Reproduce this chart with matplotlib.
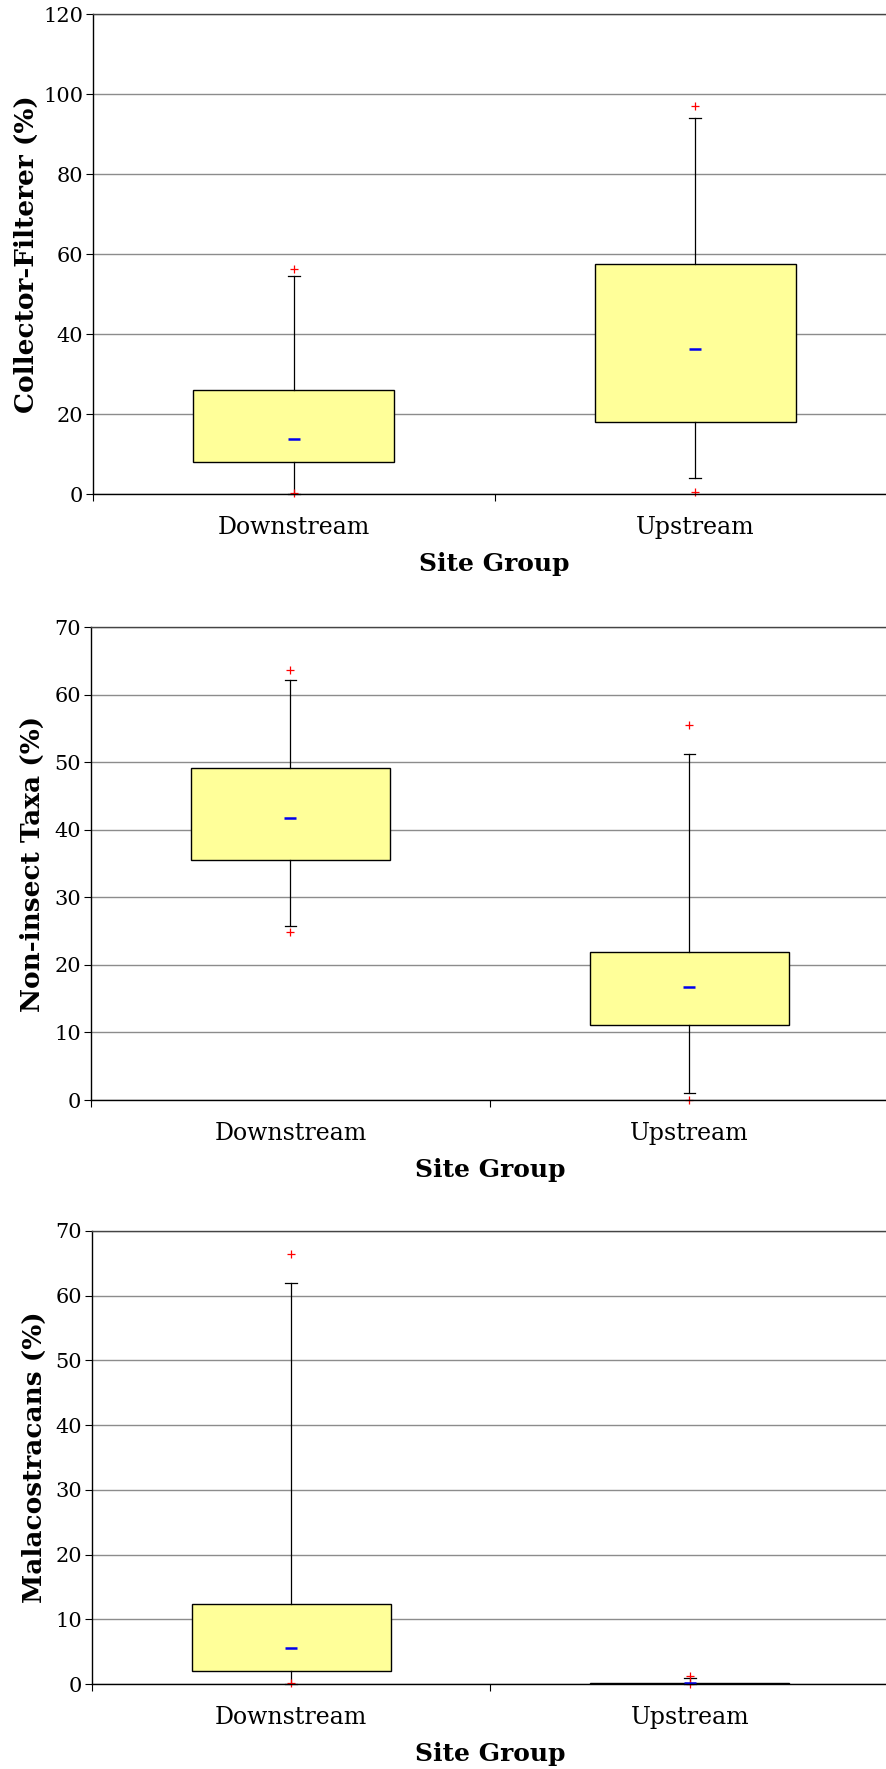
import matplotlib
matplotlib.use("Agg")
import matplotlib.pyplot as plt

# Site groups
groups = ["Downstream", "Upstream"]

# Collector-Filterer (%)
cf_q1 = [7.9, 18.0]
cf_q3 = [25.9, 57.6]
cf_mean = [13.8, 36.2]
cf_whislo = [0.0, 4.1]
cf_whishi = [54.6, 94.1]
cf_fliers = [[0.3, 56.3], [0.5, 97.0]]

# Non-insect Taxa (%)
nit_q1 = [35.5, 11.05]
nit_q3 = [49.2, 21.95]
nit_mean = [41.7, 16.7]
nit_whislo = [25.75, 1.1]
nit_whishi = [62.1, 51.2]
nit_fliers = [[24.9, 63.6], [0.0, 55.5]]

# Malacostracans (%)
mal_q1 = [2.0, 0.0]
mal_q3 = [12.35, 0.2]
mal_mean = [5.5, 0.1]
mal_whislo = [0.0, 0.0]
mal_whishi = [61.9, 0.9]
mal_fliers = [[0.2, 66.4], [0.0, 1.2]]

W, H = 887, 1769
SERIF = ["DejaVu Serif"]


def make_stats(q1, q3, mean, whislo, whishi, fliers):
    stats = []
    for i in range(len(groups)):
        stats.append({
            "label": groups[i],
            "q1": q1[i], "q3": q3[i], "med": mean[i], "mean": mean[i],
            "whislo": whislo[i], "whishi": whishi[i],
            "fliers": fliers[i],
        })
    return stats


def draw_panel(fig, rect, stats, ymax, ystep, ylabel, ylab_x):
    ax = fig.add_axes(rect)
    ax.bxp(stats, positions=[0, 1], widths=0.5, showmeans=True,
           patch_artist=True, capwidths=0.03,
           boxprops=dict(facecolor="#FFFF99", edgecolor="black", linewidth=1.0),
           whiskerprops=dict(color="black", linewidth=0.9),
           capprops=dict(color="black", linewidth=0.9),
           medianprops=dict(visible=False),
           meanprops=dict(marker="_", markeredgecolor="#0000EE", markersize=8,
                          markeredgewidth=1.8),
           flierprops=dict(marker="+", markeredgecolor="red", markersize=6,
                           markeredgewidth=0.9))
    for line in ax.lines:
        line.set_clip_on(False)

    ax.set_xlim(-0.5, 1.5)
    ax.set_ylim(0, ymax)
    ax.set_yticks(range(0, ymax + 1, ystep))
    ax.set_xticks([-0.5, 0.5, 1.5])
    ax.set_xticklabels([])
    ax.set_xticks([0, 1], minor=True)
    ax.set_xticklabels(groups, minor=True, fontsize=17, family=SERIF)
    ax.tick_params(axis="x", which="minor", length=0, pad=16)
    ax.tick_params(axis="x", which="major", length=5, width=0.8, direction="out")
    ax.tick_params(axis="y", length=5, width=0.8, direction="out", pad=2)
    for lab in ax.get_yticklabels():
        lab.set_fontsize(15)
        lab.set_family(SERIF)

    ax.grid(axis="y", color="#8c8c8c", linewidth=1.0)
    ax.set_axisbelow(True)
    ax.spines["right"].set_visible(False)
    ax.spines["top"].set_color("#444444")
    for s in ["left", "bottom", "top"]:
        ax.spines[s].set_linewidth(1.0)

    ax.set_ylabel(ylabel, fontsize=19, fontweight="bold", family=SERIF)
    ax.yaxis.set_label_coords(ylab_x, 0.5)
    ax.set_xlabel("Site Group", fontsize=18, fontweight="bold", family=SERIF, labelpad=9)
    return ax


def main():
    fig = plt.figure(figsize=(W / 100, H / 100), dpi=100)

    # pixel boxes: left, top, width, height
    panels = [
        ((93, 14, 803, 480), make_stats(cf_q1, cf_q3, cf_mean, cf_whislo, cf_whishi, cf_fliers),
         120, 20, "Collector-Filterer (%)", -0.067),
        ((91, 627, 798, 473), make_stats(nit_q1, nit_q3, nit_mean, nit_whislo, nit_whishi, nit_fliers),
         70, 10, "Non-insect Taxa (%)", -0.058),
        ((92, 1231, 797, 453), make_stats(mal_q1, mal_q3, mal_mean, mal_whislo, mal_whishi, mal_fliers),
         70, 10, "Malacostracans (%)", -0.057),
    ]
    for (l, t, w, h), stats, ymax, ystep, ylabel, ylab_x in panels:
        rect = [l / W, (H - t - h) / H, w / W, h / H]
        draw_panel(fig, rect, stats, ymax, ystep, ylabel, ylab_x)

    fig.savefig("out.png", dpi=100)


if __name__ == "__main__":
    main()
